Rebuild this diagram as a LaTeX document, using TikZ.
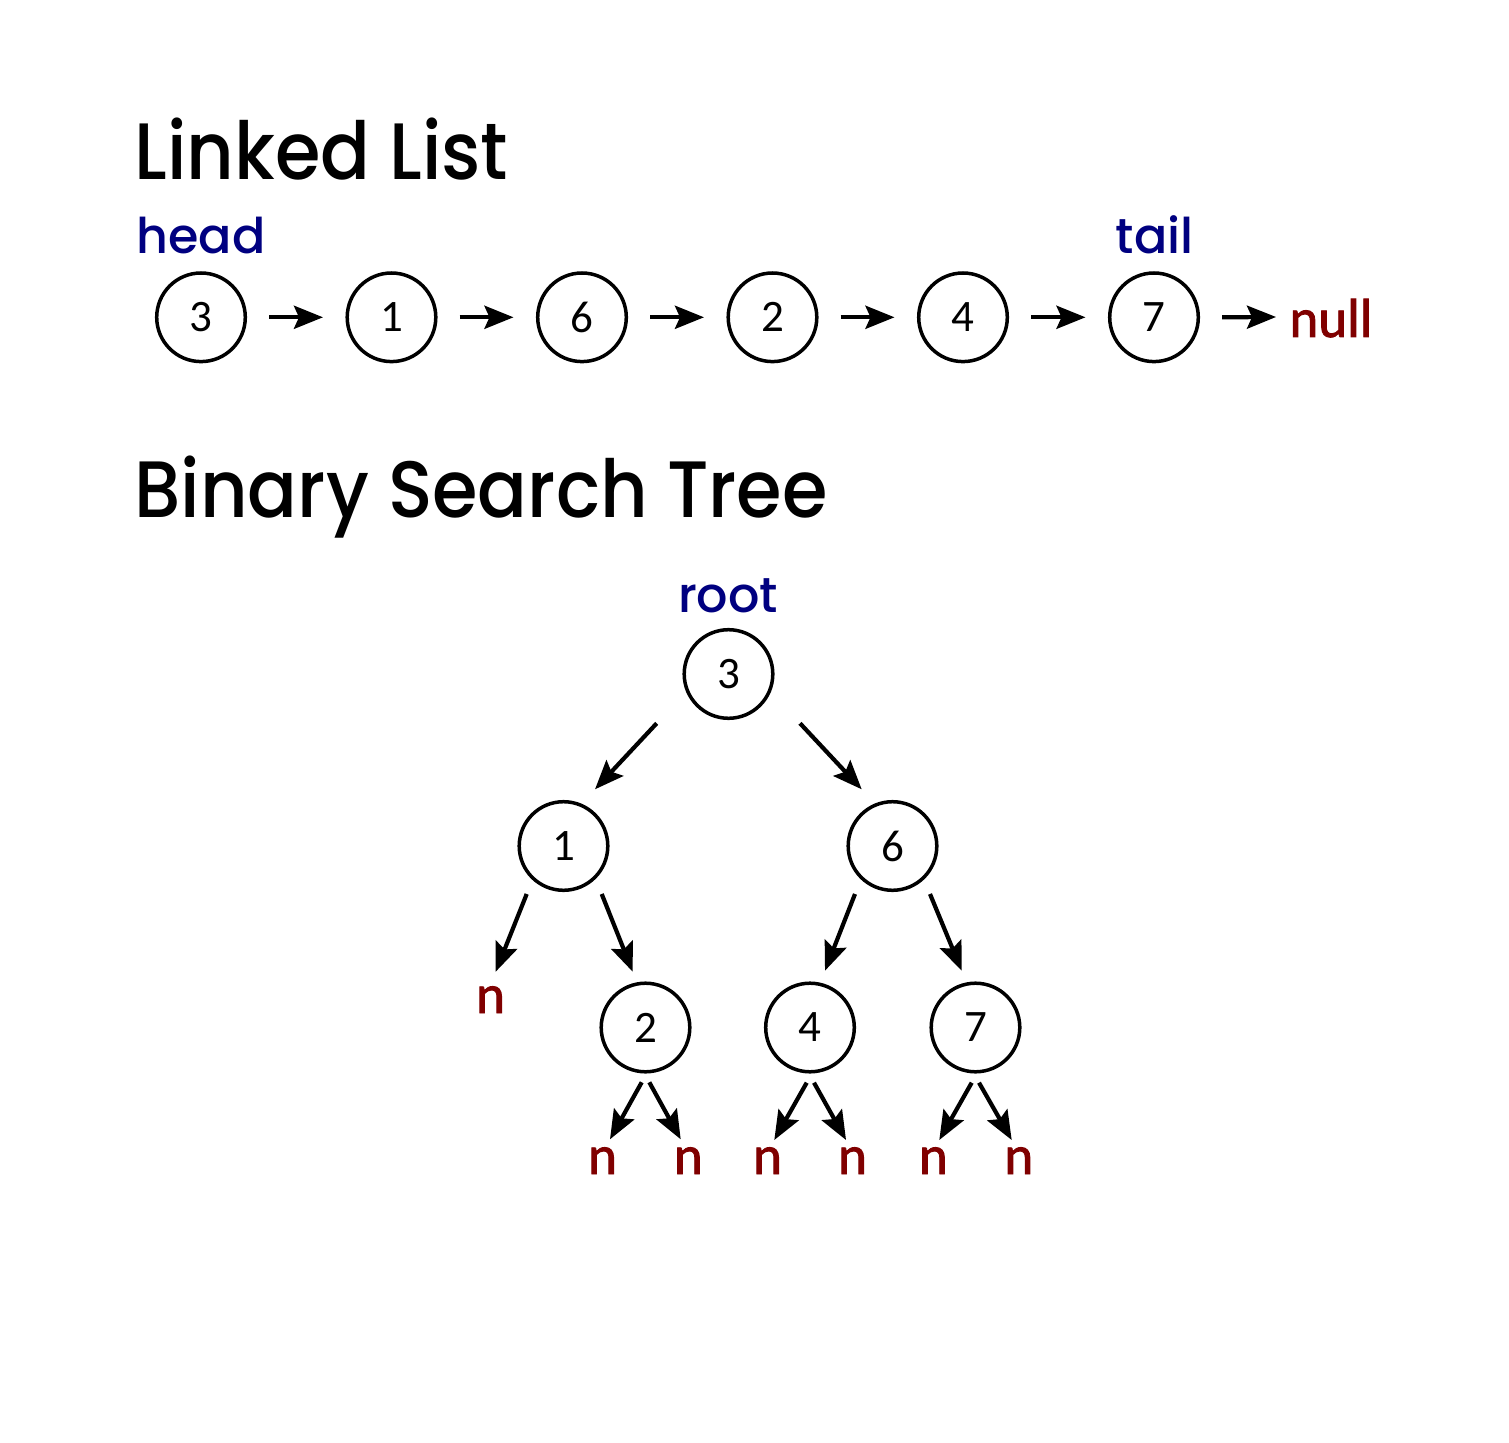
\documentclass[tikz,border=0pt]{standalone}
\usepackage{fontspec}
\usetikzlibrary{arrows.meta}
\newfontfamily\titlefont{Poppins Medium}[FakeStretch=0.92]
\newfontfamily\labfont{Poppins Medium}
\newfontfamily\numfont{Carlito}
\newfontfamily\nulfont{Carlito}[FakeBold=1.5]
\definecolor{navyc}{RGB}{0,0,128}
\definecolor{nullc}{RGB}{128,0,0}
\begin{document}
\begin{tikzpicture}[x=0.5pt,y=-0.5pt,
  nd/.style={circle,draw,line width=1.75pt,minimum size=44.3pt,inner sep=0pt,
    font=\numfont\fontsize{22.5pt}{27pt}\selectfont},
  ttl/.style={anchor=base west,inner sep=0pt,font=\titlefont\fontsize{40pt}{48pt}\selectfont},
  lab/.style={anchor=base,inner sep=0pt,text=navyc,font=\labfont\fontsize{24.6pt}{30pt}\selectfont},
  nul/.style={anchor=base,inner sep=0pt,text=nullc,font=\nulfont\fontsize{27.5pt}{32pt}\selectfont},
  arr/.style={-{Stealth[length=14.5pt,width=11.5pt,inset=2.5pt]},line width=2.1pt}]
\fill[white] (0,0) rectangle (1509,1443);
\useasboundingbox (0,0) rectangle (1509,1443);
% titles
\node[ttl] (t1) at (134,179.5) {Linked List};
\node[ttl] (t2) at (134,517) {Binary Search Tree};
% linked list
\node[nd] (l1) at (201,317.3) {3};
\node[nd] (l2) at (391.5,317.3) {1};
\node[nd] (l3) at (582,317.3) {6};
\node[nd] (l4) at (772.5,317.3) {2};
\node[nd] (l5) at (963,317.3) {4};
\node[nd] (l6) at (1154,317.3) {7};
\node[lab] (head) at (201,253.5) {head};
\node[lab] (tail) at (1154.5,253.5) {tail};
\node[nul,anchor=base west] (null) at (1289,337) {null};
\foreach \i/\j in {1/2,2/3,3/4,4/5,5/6}
  \draw[arr] ([shift={(68,0)}]l\i.center) -- ([shift={(-68.5,0)}]l\j.center);
\draw[arr] ([shift={(68,0)}]l6.center) -- ([shift={(-13,-20)}]null.base west);
% tree
\node[nd] (r) at (728.5,674) {3};
\node[lab] (root) at (728,612) {root};
\node[nd] (a) at (563.5,846) {1};
\node[nd] (b) at (892.5,846) {6};
\node[nd] (c) at (645.5,1027.5) {2};
\node[nd] (d) at (810,1027.5) {4};
\node[nd] (e) at (975.5,1027.5) {7};
\node[nul] (na) at (490.5,1013) {n};
\node[nul] (nc1) at (602.5,1174) {n};
\node[nul] (nc2) at (688.3,1174) {n};
\node[nul] (nd1) at (767.5,1174) {n};
\node[nul] (nd2) at (852.5,1174) {n};
\node[nul] (ne1) at (933.3,1174) {n};
\node[nul] (ne2) at (1018.8,1174) {n};
\draw[arr] ([shift={(-71.8,49.3)}]r.center) -- ([shift={(31.5,-56.7)}]a.center);
\draw[arr] ([shift={(71.5,49.3)}]r.center) -- ([shift={(-30.8,-56.7)}]b.center);
\draw[arr] ([shift={(-36.8,48)}]a.center) -- ([shift={(5.2,-41.3)}]na.base);
\draw[arr] ([shift={(38.2,48)}]a.center) -- ([shift={(-12.8,-55.8)}]c.center);
\draw[arr] ([shift={(-37.5,48)}]b.center) -- ([shift={(15,-56.8)}]d.center);
\draw[arr] ([shift={(37.5,48)}]b.center) -- ([shift={(-13.8,-56.8)}]e.center);
\draw[arr] ([shift={(-3.8,54.8)}]c.center) -- ([shift={(7.5,-34.7)}]nc1.base);
\draw[arr] ([shift={(3.8,54.8)}]c.center) -- ([shift={(-7.6,-34.7)}]nc2.base);
\draw[arr] ([shift={(-3.3,55.2)}]d.center) -- ([shift={(6.8,-34)}]nd1.base);
\draw[arr] ([shift={(4,55.2)}]d.center) -- ([shift={(-6.5,-34)}]nd2.base);
\draw[arr] ([shift={(-3.8,55.2)}]e.center) -- ([shift={(6,-34)}]ne1.base);
\draw[arr] ([shift={(3.5,55.2)}]e.center) -- ([shift={(-7.1,-34)}]ne2.base);
\end{tikzpicture}
\end{document}
